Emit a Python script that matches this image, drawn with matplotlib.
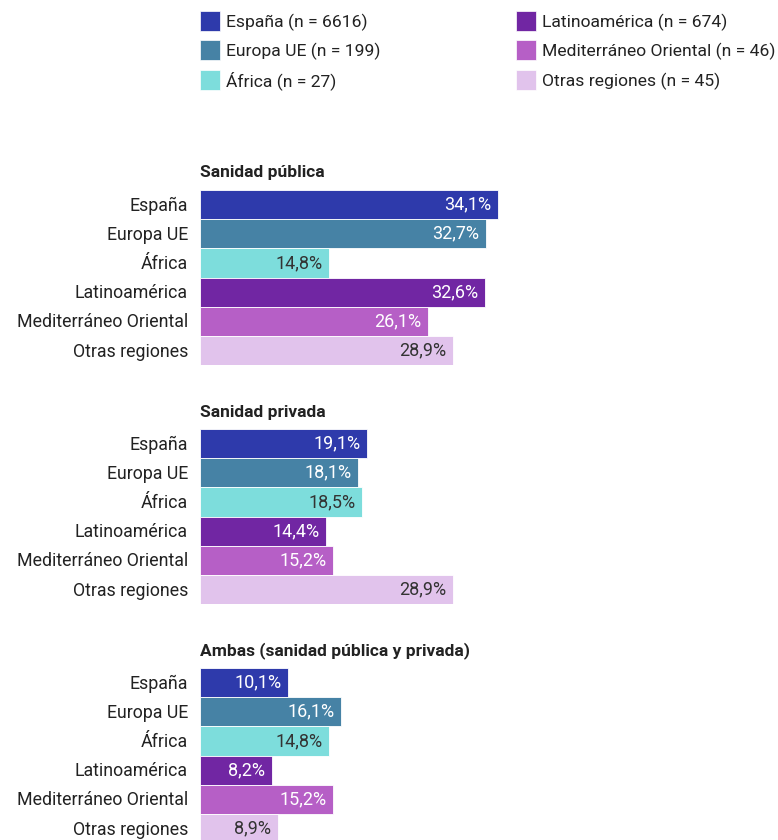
import matplotlib
matplotlib.use("Agg")
import matplotlib.pyplot as plt
from matplotlib.patches import Rectangle

plt.rcParams["font.family"] = ["Roboto", "DejaVu Sans"]

# ----------------------------------------------------------------------
# Data
# ----------------------------------------------------------------------
regions = ["España", "Europa UE", "África", "Latinoamérica",
           "Mediterráneo Oriental", "Otras regiones"]
sample_n = [6616, 199, 27, 674, 46, 45]
colors = ["#2e3aab", "#4682a5", "#7ddddc", "#7126a3", "#b65fc6", "#e1c3ec"]
label_colors = ["white", "white", "#333333", "white", "white", "#333333"]

panel_titles = ["Sanidad pública", "Sanidad privada",
                "Ambas (sanidad pública y privada)"]
publica = [34.1, 32.7, 14.8, 32.6, 26.1, 28.9]
privada = [19.1, 18.1, 18.5, 14.4, 15.2, 28.9]
ambas = [10.1, 16.1, 14.8, 8.2, 15.2, 8.9]
panels = [publica, privada, ambas]

# ----------------------------------------------------------------------
# Figure (pixel based layout)
# ----------------------------------------------------------------------
W, H = 778, 840
fig = plt.figure(figsize=(W / 100, H / 100), dpi=100)

def fx(px):
    return px / W

def fy(py):
    return 1 - py / H

# Legend, drawn by hand in two columns
legend_rows = [21, 50, 80]
for i, (name, n, c) in enumerate(zip(regions, sample_n, colors)):
    col, row = divmod(i, 3)
    x0 = 200 if col == 0 else 516
    yc = legend_rows[row]
    fig.patches.append(Rectangle((fx(x0), fy(yc + 10)), fx(20), 20 / H,
                                 transform=fig.transFigure, facecolor=c,
                                 edgecolor="white", linewidth=0.5))
    fig.text(fx(x0 + 26), fy(yc + 1), f"{name} (n = {n})", fontsize=12.6,
             color="#222222", va="center", ha="left")

# Panels
px_per_pct = 8.74
ax_left, ax_width = 200, 578
row_h = 29.2
panel_tops = [190, 429, 668]

for title, values, top in zip(panel_titles, panels, panel_tops):
    h = row_h * len(regions)
    ax = fig.add_axes([fx(ax_left), fy(top + h), fx(ax_width), h / H])
    ax.barh(range(len(regions)), values, height=1.0, color=colors,
            edgecolor="white", linewidth=0.6)
    ax.set_xlim(0, ax_width / px_per_pct)
    ax.set_ylim(len(regions) - 0.5, -0.5)
    ax.axis("off")
    for i, v in enumerate(values):
        ax.text(v - 0.75, i, f"{v:.1f}%".replace(".", ","), ha="right",
                va="center", fontsize=13, color=label_colors[i])
        fig.text(fx(188), fy(top + row_h * (i + 0.5) + 1), regions[i],
                 ha="right", va="center", fontsize=12.8, color="#222222")
    fig.text(fx(200), fy(top - 17), title, ha="left", va="center",
             fontsize=12.5, fontweight="bold", color="#222222")

fig.savefig("out.png", dpi=100)
